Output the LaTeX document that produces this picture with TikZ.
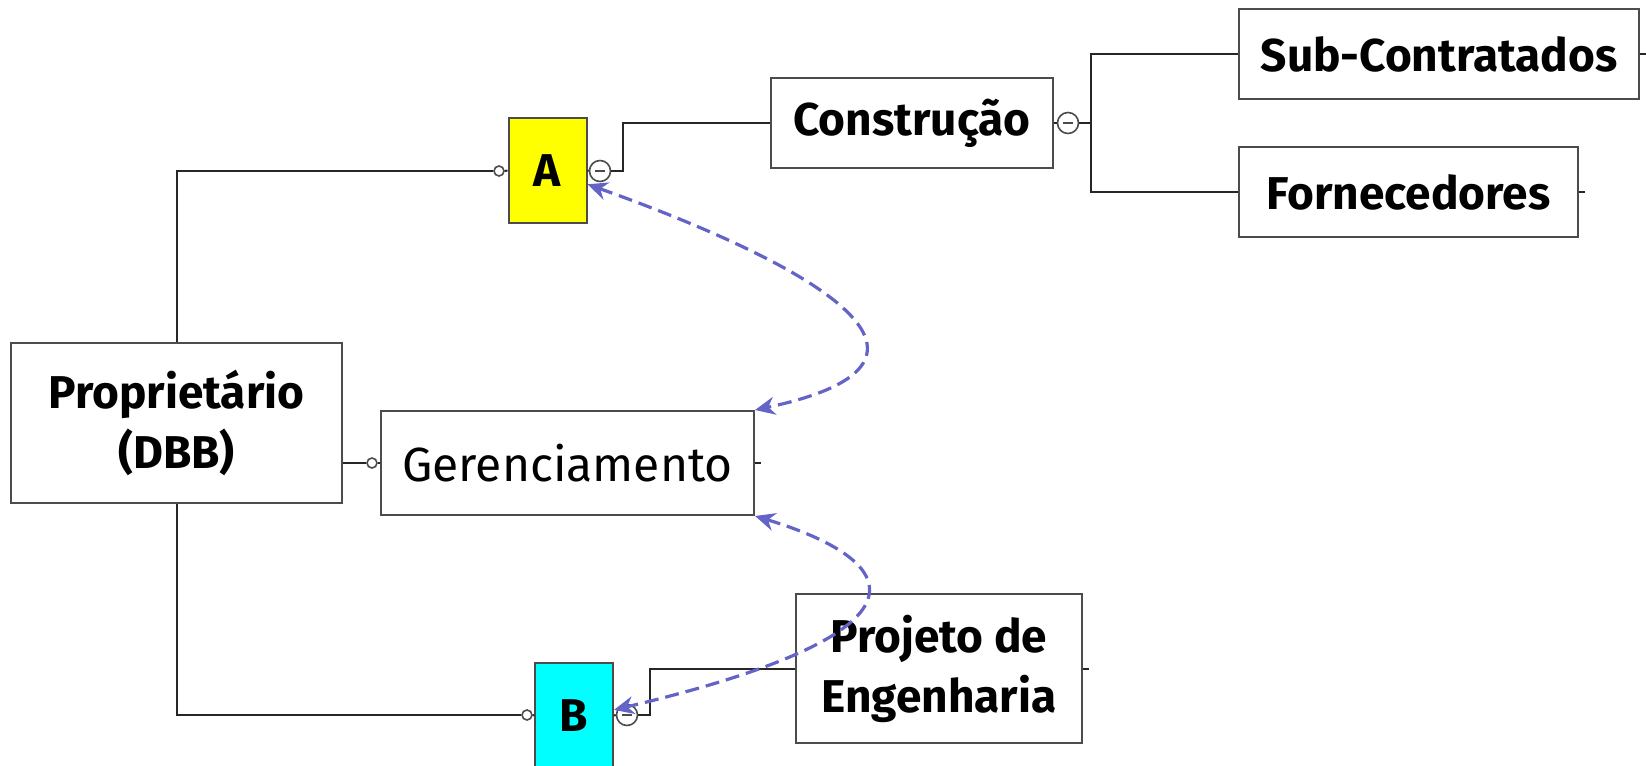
\documentclass[tikz,border=0pt]{standalone}
\usepackage{fontspec}
\setmainfont{Fira Sans}
\usetikzlibrary{arrows.meta}
\definecolor{linkblue}{RGB}{100,100,200}
\definecolor{boxA}{RGB}{255,255,0}
\definecolor{boxB}{RGB}{0,255,255}
\begin{document}
\begin{tikzpicture}[
        x=0.5pt, y=-0.5pt,
        topic/.style={draw=black!70, line width=1pt, fill=white, inner sep=0pt, align=center,
            font=\fontsize{23}{30}\selectfont\bfseries},
        letter/.style={topic, minimum width=39pt, minimum height=52.5pt},
        wire/.style={draw=black!85, line width=1pt},
        knob/.style={draw=black!70, fill=white, circle, inner sep=0pt, minimum size=5pt, line width=0.8pt},
        fold/.style={knob, minimum size=10.5pt,
            path picture={\draw[line width=0.6pt] ([xshift=-2.5pt]path picture bounding box.center) -- ([xshift=2.5pt]path picture bounding box.center);}},
        link/.style={draw=linkblue, line width=1.6pt, dash pattern=on 7pt off 3.5pt,
            {Stealth[length=10pt,width=9pt]}-{Stealth[length=10pt,width=9pt]}}
    ]
        \useasboundingbox (0,0) rectangle (1646,766);
        % Contract structure diagram
        \node[topic, minimum width=165.5pt, minimum height=80pt] (owner) at (176.5,423) {Proprietário\\(DBB)};
        \node[topic, font=\fontsize{24}{30}\selectfont, minimum width=186.5pt, minimum height=52pt] (mgmt) at (567.5,463) {Gerenciamento};
        \node[letter, fill=boxA] (A) at (547.5,170.5) {A};
        \node[letter, fill=boxB] (B) at (574,715.5) {B};
        \node[topic, minimum width=141pt, minimum height=45pt] (build) at (912,123) {Construção};
        \node[topic, minimum width=200pt, minimum height=45pt] (subs) at (1439,54) {Sub-Contratados};
        \node[topic, minimum width=169.5pt, minimum height=45pt] (supp) at (1408.5,192) {Fornecedores};
        \node[topic, minimum width=143pt, minimum height=74.5pt] (design) at (939,668.5) {Projeto de\\Engenharia};
        \node[knob] (kA) at (499,171) {};
        \node[knob] (kB) at (527,715) {};
        \node[knob] (kM) at (372,463) {};
        \node[fold] (fA) at (600,171) {};
        \node[fold] (fB) at (627,715) {};
        \node[fold] (fC) at (1068,123) {};
        % owner branches
        \draw[wire] (owner.north) |- (kA);
        \draw[wire] (kA.east) -- (A.west);
        \draw[wire] (owner.south) |- (kB);
        \draw[wire] (kB.east) -- (B.west);
        \draw[wire] (owner.east |- kM) -- (kM.west);
        \draw[wire] (kM.east) -- (mgmt.west);
        % contract branches
        \draw[wire] (A.east) -- (fA.west);
        \draw[wire] (fA.east) -- ++(12,0) |- (build.west);
        \draw[wire] (build.east) -- (fC.west);
        \draw[wire] (fC.east) -- ++(12,0) coordinate (fork);
        \draw[wire] (subs.west) -| (fork) |- (supp.west);
        \draw[wire] (B.east) -- (fB.west);
        \draw[wire] (fB.east) -- ++(12,0) |- (design.west);
        \foreach \n in {subs, supp, design, mgmt} {
            \draw[wire] (\n.east) -- ++(6,0);
        }
        % interface links
        \draw[link] (A.-19) .. controls (800,260) and (990,360) .. (mgmt.north east);
        \draw[link] (mgmt.south east) .. controls (900,560) and (950,630) .. (B.8);
    \end{tikzpicture}
\end{document}
